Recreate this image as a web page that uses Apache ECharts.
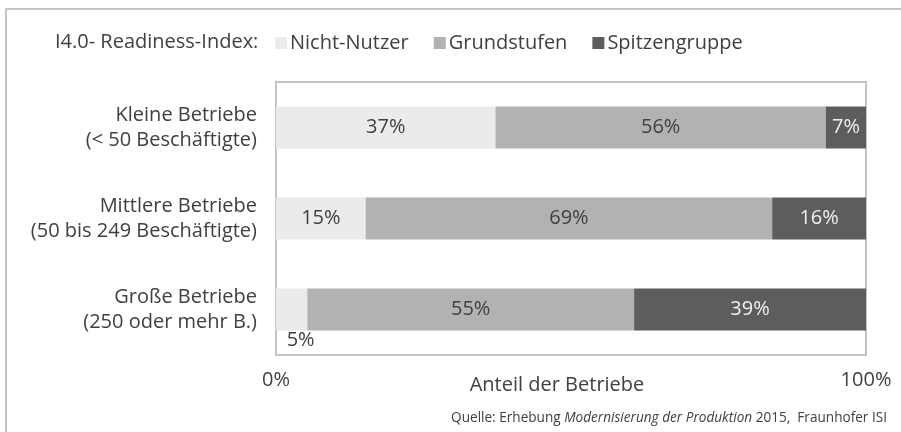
<!DOCTYPE html>
<html>
<head>
<meta charset="utf-8">
<script src="https://cdn.jsdelivr.net/npm/echarts@6/dist/echarts.min.js"></script>
<style>
  html, body { margin: 0; padding: 0; background: #fff; }
  #main { width: 901px; height: 432px; }
</style>
</head>
<body>
<div id="main"></div>
<script>
  // Betriebsgrößen (von oben nach unten)
  var categories = ['Kleine Betriebe\n(< 50 Beschäftigte)', 'Mittlere Betriebe\n(50 bis 249 Beschäftigte)', 'Große Betriebe\n(250 oder mehr B.)'];
  var seriesNames = ['Nicht-Nutzer', 'Grundstufen', 'Spitzengruppe'];
  // Anteile in %, aus dem Bild geschätzt (Beschriftung gerundet)
  var nichtNutzer = [37.2, 15.2, 5.3];
  var grundstufen = [56.0, 68.9, 55.4];
  var spitzengruppe = [6.8, 15.9, 39.3];
  var xTicks = [0, 100];

  var font = '"Open Sans", "Noto Sans", sans-serif';
  var colors = ['#ebebeb', '#b1b2b4', '#5d5d5f'];
  var labelColors = ['#404040', '#404040', '#f0f0f0'];

  function makeSeries(idx, data) {
    return {
      name: seriesNames[idx],
      type: 'bar',
      stack: 'total',
      barWidth: 42,
      itemStyle: { color: colors[idx] },
      label: {
        show: true,
        position: 'inside',
        color: labelColors[idx],
        fontFamily: font,
        fontSize: 20,
        formatter: function (p) { return Math.round(p.value) + '%'; }
      },
      data: data.map(function (v, i) {
        // kleinster Wert (Große Betriebe, Nicht-Nutzer) wird unter den Balken geschrieben
        if (idx === 0 && i === 2) {
          return { value: v, label: { position: 'bottom', distance: 0, offset: [9, 0] } };
        }
        return v;
      })
    };
  }

  var myChart = echarts.init(document.getElementById('main'));
  var option = {
    animation: false,
    backgroundColor: '#fff',
    textStyle: { fontFamily: font },
    legend: {
      data: seriesNames,
      left: 275,
      top: 33,
      padding: 0,
      icon: 'rect',
      itemWidth: 12,
      itemHeight: 12,
      itemGap: 25,
      textStyle: { color: '#404040', fontSize: 20, fontFamily: font, padding: [0, 0, 0, -2] }
    },
    grid: {
      left: 276,
      right: 35,
      top: 82,
      bottom: 77,
      show: true,
      borderColor: '#c4c4c6',
      borderWidth: 2,
      backgroundColor: '#fff'
    },
    xAxis: {
      type: 'value',
      min: xTicks[0],
      max: xTicks[1],
      interval: 100,
      axisLine: { show: false },
      axisTick: { show: false },
      splitLine: { show: false },
      axisLabel: {
        margin: 15,
        color: '#404040',
        fontSize: 20,
        fontFamily: font,
        formatter: '{value}%'
      }
    },
    yAxis: {
      type: 'category',
      inverse: true,
      data: categories,
      axisLine: { show: false },
      axisTick: { show: false },
      axisLabel: {
        margin: 19,
        color: '#404040',
        fontSize: 20,
        lineHeight: 25,
        fontFamily: font,
        align: 'right'
      }
    },
    graphic: [
      {
        type: 'rect',
        silent: true,
        shape: { x: 6, y: 9, width: 1000, height: 1000 },
        style: { fill: 'none', stroke: '#c4c4c6', lineWidth: 2 }
      },
      {
        type: 'text',
        left: 55,
        top: 32,
        style: { text: 'I4.0- Readiness-Index:', fill: '#404040', font: '20px ' + font }
      },
      {
        type: 'text',
        x: 557,
        y: 385,
        style: { text: 'Anteil der Betriebe', fill: '#404040', font: '20px ' + font, align: 'center', verticalAlign: 'middle' }
      },
      {
        type: 'text',
        x: 887,
        y: 418,
        style: {
          text: 'Quelle: Erhebung {i|Modernisierung der Produktion} 2015,  Fraunhofer ISI',
          align: 'right',
          verticalAlign: 'middle',
          fill: '#404040',
          fontSize: 13.6,
          fontFamily: font,
          rich: {
            i: { fontStyle: 'italic', fontSize: 13.6, fill: '#404040', fontFamily: font }
          }
        }
      }
    ],
    series: [
      makeSeries(0, nichtNutzer),
      makeSeries(1, grundstufen),
      makeSeries(2, spitzengruppe)
    ]
  };
  myChart.setOption(option);
</script>
</body>
</html>
